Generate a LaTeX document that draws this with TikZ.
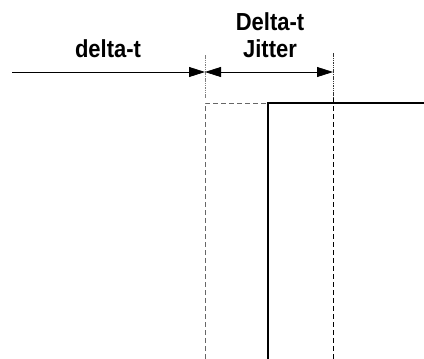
\documentclass[tikz,border=0pt]{standalone}
\usepackage{fontspec}
\setmainfont{Liberation Sans}
\usetikzlibrary{arrows.meta}
\newcommand{\tall}[1]{\scalebox{1}[1.12]{#1}}
\begin{document}
\begin{tikzpicture}[x=1pt,y=-1pt,
  lbl/.style={font=\fontsize{22}{27}\selectfont\bfseries, inner sep=0pt, anchor=base},
  dim/.style={line width=0.8pt, -{Triangle[length=16pt,width=10pt]}},
  ext/.style={line width=0.8pt, gray, dash pattern=on 1.5pt off 0.8pt},
  guide/.style={line width=0.9pt, dash pattern=on 5pt off 3pt},
  signal/.style={line width=2.6pt}]
\useasboundingbox (0,0) rectangle (424,359);
% coordinates
\coordinate (L0) at (12,72);
\coordinate (A) at (205,72);
\coordinate (B) at (333,72);
\coordinate (Atop) at (205,55);
\coordinate (Amid) at (205,98);
\coordinate (Ad) at (205,103);
\coordinate (Abot) at (205,359);
\coordinate (Btop) at (333,53);
\coordinate (Bmid) at (333,98);
\coordinate (Bbot) at (333,359);
\coordinate (S0) at (268,359);
\coordinate (S1) at (268,103);
\coordinate (S2) at (424,103);
% labels
\node[lbl] (dt) at (108,57) {\tall{delta-t}};
\node[lbl] (Dt) at (270,30) {\tall{Delta-t}};
\node[lbl] (jit) at (270,57) {\tall{Jitter}};
% extension lines
\draw[ext] (Atop) -- (Amid);
\draw[ext, black!80] (Btop) -- (Bmid);
% dashed guides
\draw[guide, black!60] (Abot) -- (Ad) -- (S1);
\draw[guide] (Bmid) -- (Bbot);
% signal
\draw[signal] (S0) -- (S1) -- (S2);
% dimension arrows
\draw[dim] (L0) -- (A);
\draw[dim, {Triangle[length=16pt,width=10pt]}-{Triangle[length=16pt,width=10pt]}] (A) -- (B);
\end{tikzpicture}
\end{document}
